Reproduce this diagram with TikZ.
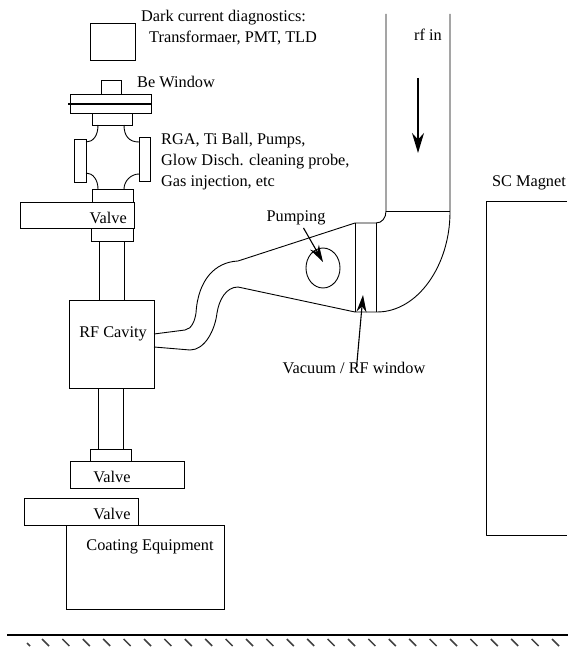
\documentclass[tikz,border=0pt]{standalone}
\usepackage{fontspec}
\setmainfont{Liberation Serif}
\usetikzlibrary{arrows.meta, shapes.geometric}
\tikzset{
  partbox/.style={draw=black, line width=0.9pt, inner sep=0pt, outer sep=0pt},
  partline/.style={draw=black, line width=0.9pt, line join=round},
  partlabel/.style={font=\fontsize{16.3}{21}\selectfont, inner sep=0pt, align=left},
  pointer/.style={black, line width=1.1pt, -{Stealth[length=17pt, width=10pt]}},
  flowarrow/.style={black, line width=1.6pt, -{Stealth[length=20pt, width=12pt]}},
  hatchtick/.style={black!75, line width=1.5pt},
}
\begin{document}
\begin{tikzpicture}[x=1pt, y=-1pt]
  \useasboundingbox (0,0) rectangle (568,650);

  % upper beamline
  \node[partbox, minimum width=45pt, minimum height=37pt] (diagbox) at (112.5,41.5) {};
  \node[partbox, minimum width=20pt, minimum height=14pt] (bewindow) at (111,87) {};
  \node[partbox, minimum width=81pt, minimum height=19pt] (topflange) at (110.5,103.5) {};
  \draw[black, line width=1.6pt] (68,104) -- (151,104);
  \node[partbox, minimum width=40pt, minimum height=12pt] (topneck) at (112,119) {};
  \node[partbox, minimum width=12pt, minimum height=43pt] (leftport) at (80,160.5) {};
  \node[partbox, minimum width=11pt, minimum height=44pt] (rightport) at (144.5,159) {};
  \draw[partline] (98,125) .. controls (98,136) and (93,142) .. (86,142);
  \draw[partline] (124,125) .. controls (124,136) and (129,142) .. (139,142);
  \draw[partline] (86,173) .. controls (93,173) and (98,180) .. (98,189);
  \draw[partline] (139,174) .. controls (131,174) and (124,181) .. (124,189);
  \node[partbox, minimum width=41pt, minimum height=13pt] (midneck) at (112.5,195.5) {};
  \node[partbox, minimum width=114pt, minimum height=26pt] (topvalve) at (77,215) {};
  \node[partbox, minimum width=42pt, minimum height=13pt] (lowneck) at (112,234.5) {};
  \node[partbox, minimum width=25pt, minimum height=59pt] (uppertube) at (111.5,270.5) {};

  % cavity and lower beamline
  \node[partbox, minimum width=85pt, minimum height=88pt] (cavity) at (111.5,344) {};
  \node[partbox, minimum width=25pt, minimum height=61pt] (lowertube) at (110.5,418.5) {};
  \node[partbox, minimum width=41pt, minimum height=12pt] (lowflange) at (110.5,455) {};
  \node[partbox, minimum width=114pt, minimum height=27pt] (lowvalve) at (127,474.5) {};
  \node[partbox, minimum width=114pt, minimum height=27pt] (coatvalve) at (81,511.5) {};
  \node[partbox, minimum width=158pt, minimum height=84pt] (coating) at (145,567) {};

  % waveguide
  \draw[partline] (450,14) -- (450,212) .. controls (450,265) and (418,312) .. (377,312)
    -- (355,312) -- (238,287) .. controls (226,287) and (219,300) .. (217,313)
    .. controls (215,330) and (205,350) .. (190,350) -- (cavity.east |- 0,347);
  \draw[partline] (386,14) -- (386,211) .. controls (386,218) and (382,223) .. (376,223)
    -- (355,223) -- (238,261) .. controls (215,262) and (198,280) .. (196,313)
    .. controls (195,320) and (192,329) .. (185,330) -- (cavity.east |- 0,334);
  \draw[partline] (386,211) -- (450,211);
  \draw[partline] (355,223) -- (355,312);
  \draw[partline] (376,223) -- (376,312);
  \node[ellipse, partbox, minimum width=34pt, minimum height=40pt] (pumpport) at (323,268) {};

  % magnet
  \coordinate (magnetne) at (567,201);
  \coordinate (magnetse) at (567,535);
  \draw[partline] (magnetne) -- (486,201) -- (486,535) -- (magnetse);

  % floor
  \coordinate (floorstart) at (7,635);
  \coordinate (floorend) at (568,635);
  \draw[black, line width=2pt] (floorstart) -- (floorend);
  \draw[hatchtick] (27,643) -- (30,646);
  \foreach \tickx in {0,...,25}
    \draw[hatchtick] (42+20.4*\tickx,639) -- (49+20.4*\tickx,646);

  % labels
  \node[partlabel, anchor=west] (darklabel) at (141,18) {Dark current diagnostics:};
  \node[partlabel, anchor=west] (translabel) at (149,38) {Transformaer, PMT, TLD};
  \node[partlabel, anchor=west] (belabel) at (137,82) {Be Window};
  \node[partlabel, anchor=north west] (rgalabel) at (161,133) {RGA, Ti Ball, Pumps,\\Glow Disch. cleaning probe,\\Gas injection, etc};
  \node[partlabel, anchor=east] (topvalvelabel) at (127,218) {Valve};
  \node[partlabel] (cavitylabel) at (113,334) {RF Cavity};
  \node[partlabel] (lowvalvelabel) at (112,477) {Valve};
  \node[partlabel] (coatvalvelabel) at (112,514) {Valve};
  \node[partlabel] (coatlabel) at (150,547) {Coating Equipment};
  \node[partlabel] (pumplabel) at (296,218) {Pumping};
  \node[partlabel] (windowlabel) at (354,368) {Vacuum / RF window};
  \node[partlabel] (rflabel) at (428,35) {rf in};
  \node[partlabel] (magnetlabel) at (529,183) {SC Magnet};

  % arrows
  \coordinate (pumptip) at (323,262);
  \coordinate (windowtip) at (363,295);
  \coordinate (rftail) at (418,78);
  \coordinate (rftip) at (418,153);
  \draw[pointer, shorten <=3pt] (pumplabel.south -| 302,0) -- (pumptip);
  \draw[pointer, shorten <=-5pt] (windowlabel.north -| 357,0) -- (windowtip);
  \draw[flowarrow] (rftail) -- (rftip);
\end{tikzpicture}
\end{document}
